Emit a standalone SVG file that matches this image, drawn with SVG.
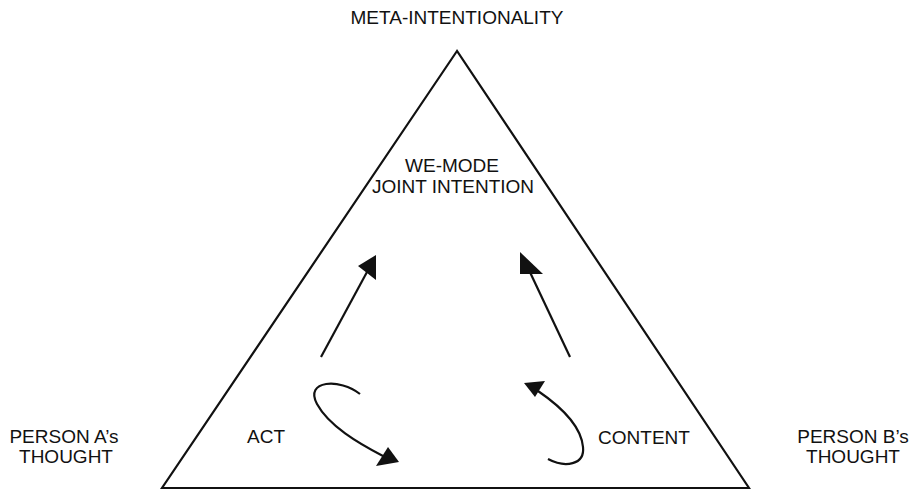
<svg xmlns="http://www.w3.org/2000/svg" width="915" height="489" viewBox="0 0 915 489">
<style>
text{font-family:"Liberation Sans",Arial,sans-serif;font-size:19px;fill:#111;text-anchor:middle}
.ln{stroke:#111;stroke-width:2.2;fill:none;stroke-linecap:butt}
.hd{fill:#111;stroke:none}
</style>
<rect width="915" height="489" fill="#fff"/>
<g id="triangle">
<polygon points="457,51 162,488 749,488" fill="none" stroke="#111" stroke-width="2.2" stroke-linejoin="miter"/>
</g>
<g id="meta"><text x="457" y="24">META-INTENTIONALITY</text></g>
<g id="wemode"><text x="452" y="172">WE-MODE</text><text x="453" y="193">JOINT INTENTION</text></g>
<g id="personA"><text x="64" y="443">PERSON A’s</text><text x="66" y="463">THOUGHT</text></g>
<g id="personB"><text x="853" y="443">PERSON B’s</text><text x="853" y="463">THOUGHT</text></g>
<g id="act"><text x="266" y="443">ACT</text></g>
<g id="content"><text x="644" y="444">CONTENT</text></g>
<g id="connectors">
<line class="ln" x1="321" y1="357" x2="367" y2="272"/>
<polygon class="hd" points="376,255 358,266 376,280"/>
<line class="ln" x1="570" y1="357" x2="528" y2="268"/>
<polygon class="hd" points="520,252 520,274 543,274"/>
<path class="ln" d="M360,394 C340,378 304,380 317,404 C329,426 358,443 383,456"/>
<polygon class="hd" points="388,447 399,462 376,466"/>
<path class="ln" d="M548,459 C565,468 585,465 583,447 C581,425 560,406 538,391"/>
<polygon class="hd" points="524,383 545,381 535,397"/>
</g>
</svg>
